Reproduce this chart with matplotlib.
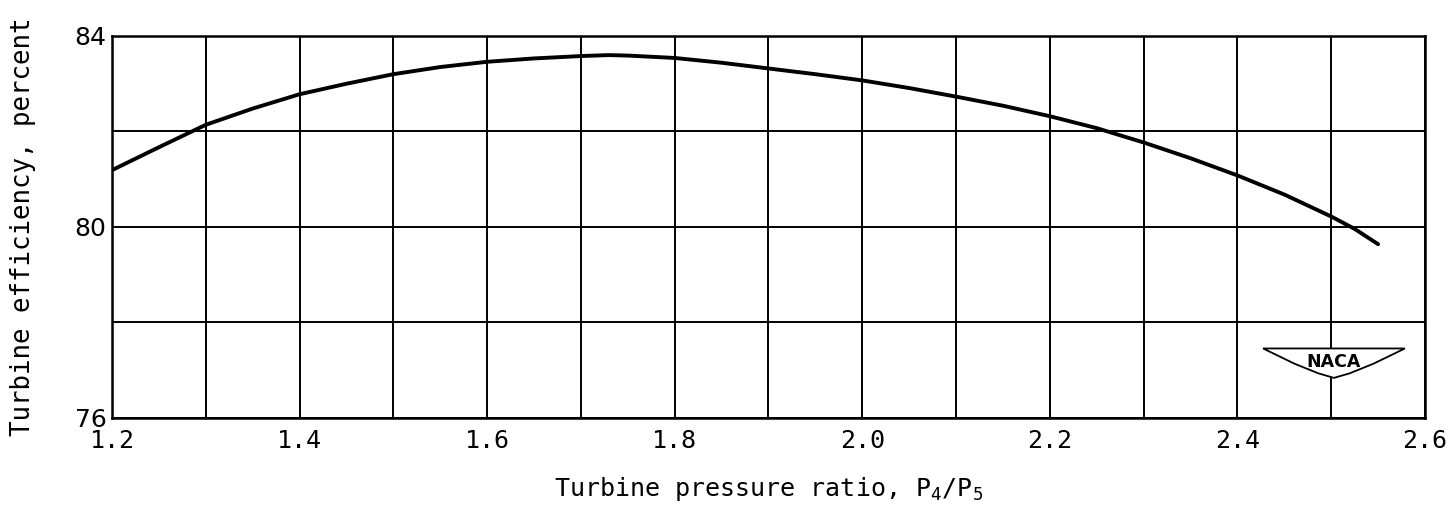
import matplotlib
matplotlib.use('Agg')
import matplotlib.pyplot as plt
from matplotlib.patches import Polygon

# values
pressure_ratio = [1.2, 1.25, 1.3, 1.35, 1.4, 1.45, 1.5, 1.55, 1.6, 1.65, 1.7, 1.73, 1.75,
                  1.8, 1.85, 1.9, 1.95, 2.0, 2.05, 2.1, 2.15, 2.2, 2.25, 2.3, 2.35,
                  2.4, 2.45, 2.5, 2.525, 2.55]
efficiency = [81.19, 81.67, 82.14, 82.48, 82.78, 83.00, 83.20, 83.35, 83.46, 83.53, 83.58, 83.60, 83.59,
              83.54, 83.44, 83.32, 83.20, 83.07, 82.91, 82.73, 82.54, 82.32, 82.07, 81.77, 81.44,
              81.08, 80.68, 80.22, 79.96, 79.64]

x_ticks = [1.2, 1.4, 1.6, 1.8, 2.0, 2.2, 2.4, 2.6]
x_grid = [1.2, 1.3, 1.4, 1.5, 1.6, 1.7, 1.8, 1.9, 2.0, 2.1, 2.2, 2.3, 2.4, 2.5, 2.6]
y_ticks = [76, 78, 80, 82, 84]
y_labels = ['76', '', '80', '', '84']

plt.rcParams['mathtext.fontset'] = 'custom'
plt.rcParams['mathtext.rm'] = 'DejaVu Sans Mono'
plt.rcParams['mathtext.it'] = 'DejaVu Sans Mono'

mono = 'DejaVu Sans Mono'

fig = plt.figure(figsize=(14.56, 5.12), dpi=100)
ax = fig.add_axes([0.0769, 0.1836, 0.9018, 0.7461])

for gx in x_grid:
    ax.axvline(gx, color='black', lw=1.4, zorder=1)
for gy in y_ticks:
    ax.axhline(gy, color='black', lw=1.4, zorder=1)

ax.plot(pressure_ratio, efficiency, color='black', lw=2.8, zorder=3,
        solid_capstyle='round', solid_joinstyle='round')

ax.set_xlim(1.2, 2.6)
ax.set_ylim(76, 84)
ax.set_xticks(x_ticks)
ax.set_xticklabels(['{:.1f}'.format(t) for t in x_ticks], family=mono, fontsize=18)
ax.set_yticks(y_ticks)
ax.set_yticklabels(y_labels, family='DejaVu Sans', fontsize=18)
ax.tick_params(length=0, pad=8)
ax.tick_params(axis='y', pad=4)

for s in ax.spines.values():
    s.set_linewidth(1.8)

ax.set_xlabel(r'Turbine pressure ratio, P$_4$/P$_5$', family=mono, fontsize=18, labelpad=16)
ax.set_ylabel('Turbine efficiency, percent', family=mono, fontsize=18.5, labelpad=28)

# NACA wing logo
cx, cy = 0.9307, 0.147
wing = [(cx - 0.054, cy + 0.035), (cx + 0.054, cy + 0.035), (cx + 0.03, cy - 0.005),
        (cx + 0.012, cy - 0.03), (cx, cy - 0.042), (cx - 0.012, cy - 0.03),
        (cx - 0.03, cy - 0.005)]
ax.add_patch(Polygon(wing, closed=True, transform=ax.transAxes, facecolor='white',
                     edgecolor='black', lw=1.3, zorder=4))
ax.text(cx, cy + 0.0, 'NACA', transform=ax.transAxes, ha='center', va='center',
        fontsize=12.5, fontweight='bold', family='DejaVu Sans', zorder=5)

fig.savefig('out.png', dpi=100)
